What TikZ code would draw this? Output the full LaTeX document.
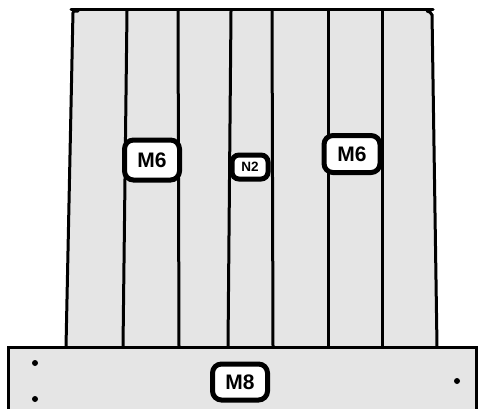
\documentclass[tikz,border=0pt]{standalone}
\usepackage{fontspec}
\setmainfont{Liberation Sans}
\begin{document}
\begin{tikzpicture}[x=1pt,y=-1pt,
  panel/.style = {fill=gray!20, draw=none},
  seam/.style = {line width=3pt, line cap=round},
  every node/.style = {shape=rectangle, rounded corners=9pt,
    draw, line width=5pt, fill=white, inner sep=0pt,
    font=\bfseries\fontsize{21}{23}\selectfont}]
 \useasboundingbox (0,0) rectangle (478,408);
 % panels
 \fill[panel] (73,11) -- (432,11) -- (437,347) -- (66,347) -- cycle;
 \draw[seam] (71,9) -- (433,9);
 \draw[seam, rounded corners=2pt] (78,11) -- (73,11) -- (66,347);
 \draw[seam, rounded corners=2pt] (427,11) -- (432,13) -- (437,347);
 \foreach \xt/\xb in {127/123, 178/179, 231/228, 272/273, 328/328, 382/382}
   \draw[seam] (\xt,11) -- (\xb,347);
 % base
 \draw[fill=gray!20, line width=3pt] (8,347) rectangle (476,420);
 \foreach \p in {(35,363), (35,399), (457,381)}
   \fill \p circle (3pt);
 % labels
 \node[minimum width=55pt, minimum height=40pt] (m6a) at (152,160) {M6};
 \node[minimum width=56pt, minimum height=37pt] (m6b) at (352,154) {M6};
 \node[minimum width=36pt, minimum height=24pt, rounded corners=7pt,
   font=\bfseries\fontsize{13.5}{15}\selectfont] (n2) at (250,167) {N2};
 \node[minimum width=55pt, minimum height=36pt] (m8) at (240,382) {M8};
\end{tikzpicture}
\end{document}
